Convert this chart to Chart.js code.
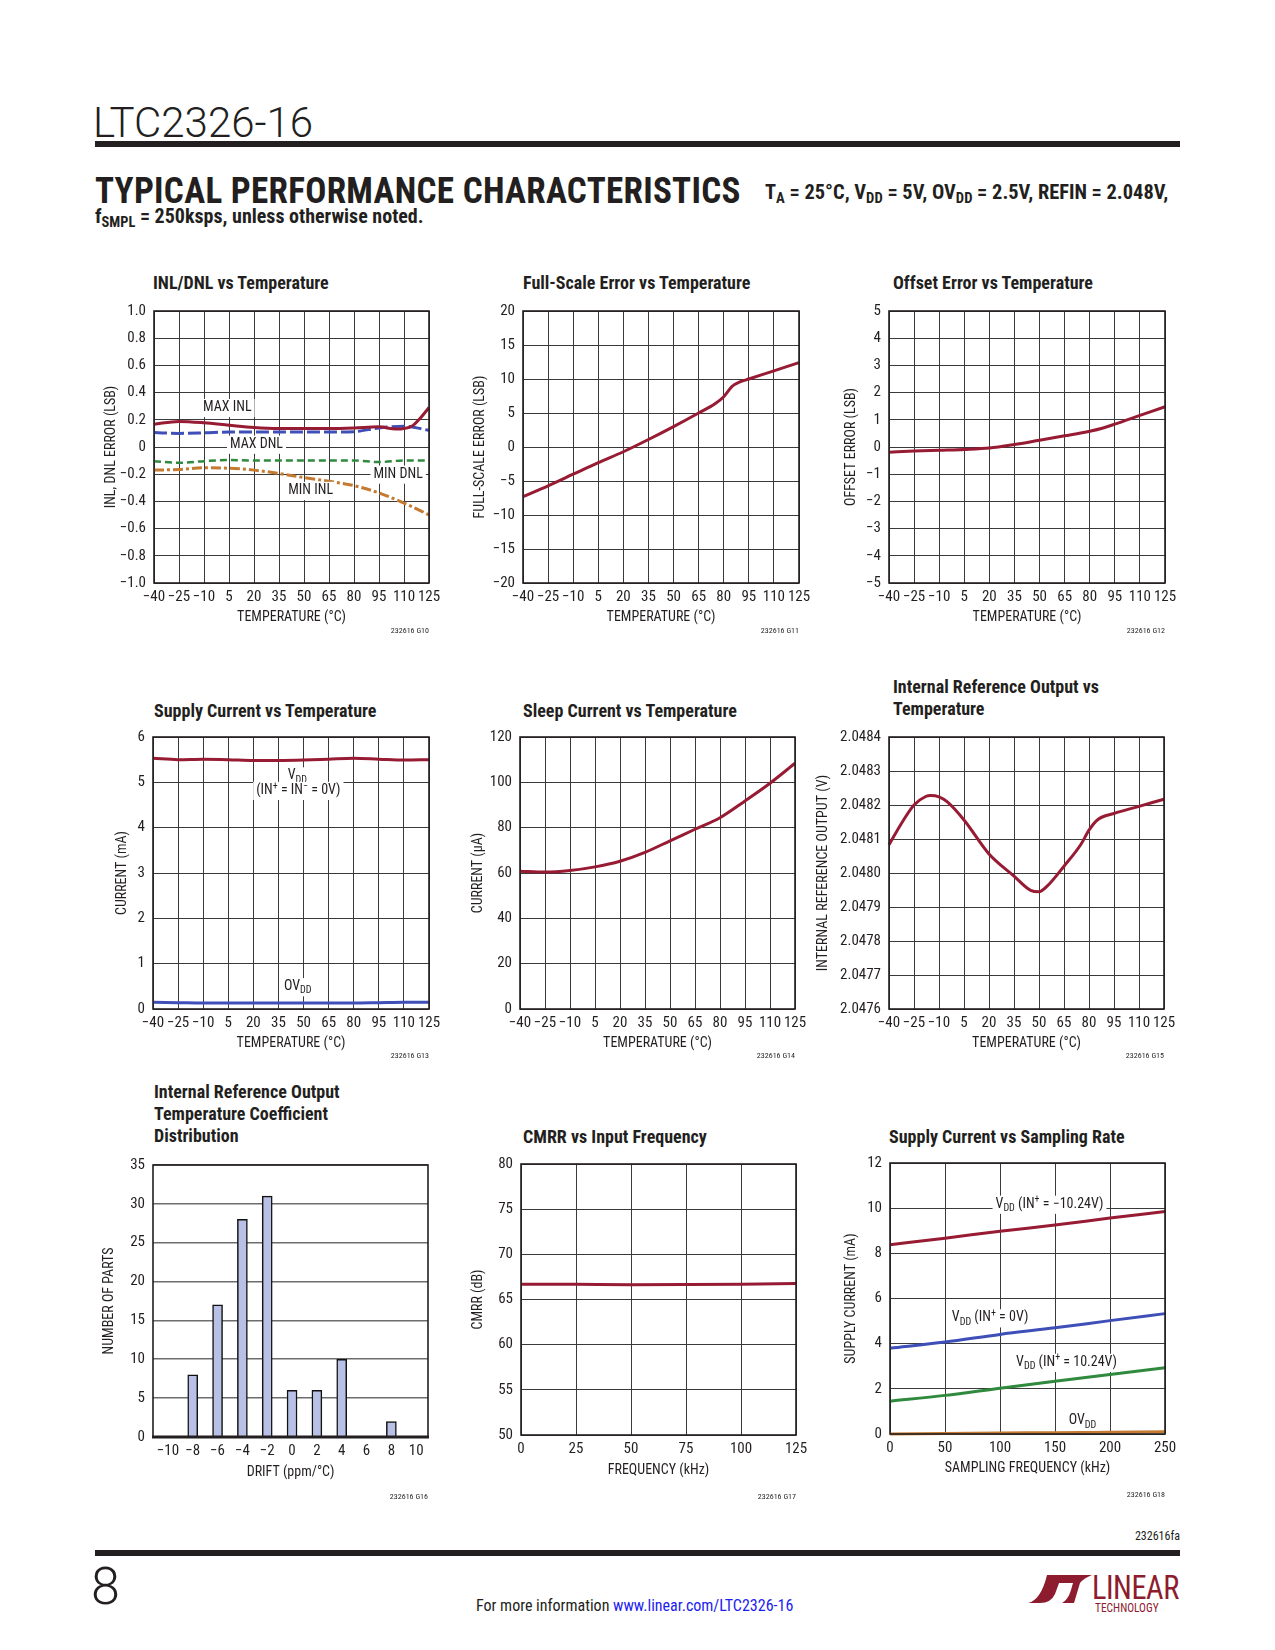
<!DOCTYPE html>
<html>
<head>
<meta charset="utf-8">
<script src="https://cdn.jsdelivr.net/npm/chart.js@4.4.1/dist/chart.umd.min.js"></script>
<style>
  body { margin: 0; background: #fff; }
  #page { position: relative; width: 1275px; height: 1650px; overflow: hidden; color: #231f20;
          font-family: 'Liberation Sans Narrow', 'Arial Narrow', 'Roboto Condensed', sans-serif; }
  .abs { position: absolute; white-space: nowrap; }
  .bar { position: absolute; background: #231f20; }
  .ct { position: absolute; font-weight: bold; font-size: 18px; line-height: 22px; white-space: nowrap; }
  canvas { position: absolute; }
  sub { font-size: 72%; vertical-align: -4px; line-height: 0; }
</style>
</head>
<body>
<div id="page">
  <div class="abs" style="left:93px;top:98px;font-family:Roboto;font-weight:300;font-size:42px;">LTC2326-16</div>
  <div class="bar" style="left:95px;top:141px;width:1085px;height:6px;"></div>
  <div class="abs" style="left:95px;top:169px;font-weight:bold;font-size:37px;letter-spacing:0.3px;transform:scaleX(0.948);transform-origin:left top;">TYPICAL PERFORMANCE CHARACTERISTICS</div>
  <div class="abs" style="left:765px;top:180px;font-weight:bold;font-size:20.4px;">T<sub>A</sub> = 25°C, V<sub>DD</sub> = 5V, OV<sub>DD</sub> = 2.5V, REFIN = 2.048V,</div>
  <div class="abs" style="left:95px;top:204px;font-weight:bold;font-size:20px;">f<sub>SMPL</sub> = 250ksps, unless otherwise noted.</div>

  <div class="ct" style="left:153px;top:272px;">INL/DNL vs Temperature</div>
  <div class="ct" style="left:523px;top:272px;">Full-Scale Error vs Temperature</div>
  <div class="ct" style="left:893px;top:272px;">Offset Error vs Temperature</div>
  <div class="ct" style="left:154px;top:700px;">Supply Current vs Temperature</div>
  <div class="ct" style="left:523px;top:700px;">Sleep Current vs Temperature</div>
  <div class="ct" style="left:893px;top:676px;">Internal Reference Output vs<br>Temperature</div>
  <div class="ct" style="left:154px;top:1081px;">Internal Reference Output<br>Temperature Coefficient<br>Distribution</div>
  <div class="ct" style="left:523px;top:1126px;">CMRR vs Input Frequency</div>
  <div class="ct" style="left:889px;top:1126px;">Supply Current vs Sampling Rate</div>

  <canvas id="c1"></canvas><canvas id="c2"></canvas><canvas id="c3"></canvas>
  <canvas id="c4"></canvas><canvas id="c5"></canvas><canvas id="c6"></canvas>
  <canvas id="c7"></canvas><canvas id="c8"></canvas><canvas id="c9"></canvas>

  <div class="abs" style="right:95px;top:1529px;font-size:12px;">232616fa</div>
  <div class="bar" style="left:95px;top:1550px;width:1085px;height:6px;"></div>
  <div class="abs" style="left:91px;top:1556px;font-family:Roboto;font-weight:300;font-size:52px;">8</div>
  <div class="abs" style="left:476px;top:1596px;font-size:16px;">For more information <span style="color:#1d1df0;">www.linear.com/LTC2326-16</span></div>
  <div class="abs" style="left:1028px;top:1575px;">
    <svg width="64" height="28" viewBox="0 0 64 28">
      <path d="M19 0 H34 L27 19 Q23 28 12 28 H0 Q13 25 19 0 Z" fill="#8c1c2e"/>
      <path d="M31 0 H64 Q56 3 52 8 L46 28 H34 Q40 25 43 15 L45 8 H29 Z" fill="#8c1c2e"/>
    </svg>
  </div>
  <div class="abs" style="left:1092px;top:1568px;font-size:33px;color:#8c1c2e;letter-spacing:-0.5px;transform:scaleX(0.92);transform-origin:left top;">LINEAR</div>
  <div class="abs" style="left:1095px;top:1601px;font-size:12px;color:#8c1c2e;transform:scaleX(0.95);transform-origin:left top;">TECHNOLOGY</div>
</div>

<script>
// ---------- data ----------
const tempTicks = [-40, -25, -10, 5, 20, 35, 50, 65, 80, 95, 110, 125];

// INL/DNL vs temperature
const inlTemp = [-40, -25, -10, 5, 20, 35, 50, 65, 80, 95, 105, 110, 115, 120, 125];
const maxInl = [0.168, 0.188, 0.178, 0.16, 0.143, 0.136, 0.136, 0.136, 0.14, 0.148, 0.132, 0.136, 0.155, 0.215, 0.29];
const dnlTemp = [-40, -25, -10, 5, 20, 35, 50, 65, 80, 95, 110, 125];
const maxDnl = [0.106, 0.1, 0.104, 0.11, 0.11, 0.11, 0.11, 0.11, 0.113, 0.14, 0.153, 0.123];
const minDnl = [-0.104, -0.116, -0.104, -0.096, -0.099, -0.099, -0.099, -0.099, -0.099, -0.111, -0.099, -0.1];
const minInl = [-0.17, -0.165, -0.153, -0.156, -0.17, -0.195, -0.225, -0.252, -0.284, -0.338, -0.412, -0.499];
const inlTicks = [-1, -0.8, -0.6, -0.4, -0.2, 0, 0.2, 0.4, 0.6, 0.8, 1];

// full-scale error
const fsTemp = [-40, -25, -10, 5, 20, 35, 50, 65, 75, 80, 85, 90, 95, 110, 125];
const fsErr = [-7.3, -5.7, -4.0, -2.3, -0.7, 1.1, 3.0, 5.0, 6.4, 7.4, 8.9, 9.6, 10.0, 11.2, 12.4];
const fsTicks = [-20, -15, -10, -5, 0, 5, 10, 15, 20];

// offset error
const offTemp = [-40, -25, -10, 5, 20, 35, 50, 65, 80, 88, 95, 110, 125];
const offErr = [-0.19, -0.15, -0.12, -0.09, -0.04, 0.09, 0.25, 0.41, 0.58, 0.7, 0.84, 1.16, 1.48];
const offTicks = [-5, -4, -3, -2, -1, 0, 1, 2, 3, 4, 5];

// supply current vs temperature
const vddCur = [5.53, 5.5, 5.51, 5.5, 5.48, 5.48, 5.49, 5.51, 5.53, 5.51, 5.49, 5.5];
const ovddCur = [0.15, 0.14, 0.13, 0.13, 0.13, 0.13, 0.13, 0.13, 0.13, 0.14, 0.15, 0.15];
const curTicks = [0, 1, 2, 3, 4, 5, 6];

// sleep current
const sleepCur = [60.8, 60.4, 61.1, 62.7, 65.2, 69.1, 74.2, 79.3, 84.4, 91.8, 99.6, 108.4];
const sleepTicks = [0, 20, 40, 60, 80, 100, 120];

// internal reference output
const refTemp = [-40, -32, -25, -18, -15, -10, -5, 5, 20, 35, 45, 50, 55, 65, 75, 80, 85, 95, 110, 125];
const refOut = [2.048083, 2.04815, 2.0482, 2.048225, 2.048228, 2.048224, 2.048209, 2.048156, 2.048056, 2.047991,
                2.047949, 2.047945, 2.047962, 2.04802, 2.048083, 2.048126, 2.048156, 2.048175, 2.048196, 2.048217];
const refTicks = [2.0476, 2.0477, 2.0478, 2.0479, 2.0480, 2.0481, 2.0482, 2.0483, 2.0484];

// tempco distribution
const driftBins = [-8, -6, -4, -2, 0, 2, 4, 8];
const partCounts = [8, 17, 28, 31, 6, 6, 10, 2];
const driftTicks = [-10, -8, -6, -4, -2, 0, 2, 4, 6, 8, 10];
const partTicks = [0, 5, 10, 15, 20, 25, 30, 35];

// CMRR
const cmrrFreq = [0, 25, 50, 75, 100, 125];
const cmrr = [66.7, 66.68, 66.64, 66.66, 66.7, 66.78];
const cmrrTicks = [50, 55, 60, 65, 70, 75, 80];

// supply current vs sampling rate
const fsmpl = [0, 50, 100, 150, 200, 250];
const vddNeg = [8.38, 8.67, 8.98, 9.25, 9.56, 9.85];
const vddZero = [3.8, 4.07, 4.41, 4.7, 5.02, 5.33];
const vddPos = [1.45, 1.71, 2.03, 2.34, 2.63, 2.93];
const ovddRate = [0.0, 0.02, 0.04, 0.06, 0.08, 0.1];
const rateTicks = [0, 2, 4, 6, 8, 10, 12];

// ---------- styling / layout ----------
const FONT = "'Liberation Sans Narrow', 'Arial Narrow', 'Roboto Condensed', sans-serif";
const INK = '#231f20';
const GRID = '#3a3a3a';
const RED = '#981b34';
const BLUE = '#3f4fb8';
const GREEN = '#2f8a3e';
const ORANGE = '#c47a30';
const AXW = 80, PADT = 14, PADR = 30, AXH = 52, PADB = 18;

function place(id, r) {
  const c = document.getElementById(id);
  const w = r.r - r.l + AXW + PADR, h = r.b - r.t + PADT + AXH + PADB;
  c.width = w; c.height = h;
  c.style.left = (r.l - AXW) + 'px';
  c.style.top = (r.t - PADT) + 'px';
  c.style.width = w + 'px';
  c.style.height = h + 'px';
  return c;
}

const minus = v => String(v).replace('-', '\u2212');

function axis(horizontal, min, max, ticks, label, gap, fmt, grid) {
  const half = 14 * 1.2 / 2;
  return {
    type: 'linear', min, max,
    afterBuildTicks: s => { s.ticks = ticks.map(v => ({ value: v })); },
    afterFit: s => { if (horizontal) s.height = AXH; else s.width = AXW; },
    grid: { display: grid !== false, color: GRID, lineWidth: 1, drawTicks: false },
    border: { display: false },
    ticks: { color: INK, font: { family: FONT, size: 15 }, padding: horizontal ? 5 : 8,
             maxRotation: 0, autoSkip: false, callback: fmt || minus },
    title: { display: true, text: label, color: INK, font: { family: FONT, size: 14 },
             padding: horizontal ? { top: 0, bottom: AXH - half - gap } : { top: AXW - gap - half, bottom: 0 } }
  };
}

function series(xs, ys, color, dash, width) {
  return {
    data: xs.map((x, i) => ({ x, y: ys[i] })),
    borderColor: color, borderWidth: width || 3, borderDash: dash || [],
    pointRadius: 0, cubicInterpolationMode: 'monotone', fill: false, clip: false
  };
}

// rich text: parts = [[text], [text, 'sub'|'sup'], ...]
function drawRich(ctx, parts, cx, cy, size, bg) {
  const big = size + 'px ' + FONT, small = Math.round(size * 0.72) + 'px ' + FONT;
  let w = 0;
  const ws = parts.map(p => { ctx.font = p[1] ? small : big; const m = ctx.measureText(p[0]).width; w += m; return m; });
  if (bg) {
    ctx.fillStyle = '#fff';
    ctx.fillRect(cx - w / 2 - 3, cy - size * 0.62, w + 6, size * 1.3);
  }
  ctx.fillStyle = INK;
  ctx.textBaseline = 'middle';
  ctx.textAlign = 'left';
  let x = cx - w / 2;
  parts.forEach((p, i) => {
    ctx.font = p[1] ? small : big;
    const dy = p[1] === 'sub' ? size * 0.3 : p[1] === 'sup' ? -size * 0.32 : 0;
    ctx.fillText(p[0], x, cy + dy);
    x += ws[i];
  });
}

function frame(opts) {
  return {
    id: 'frame',
    afterDatasetsDraw(chart) {
      const { ctx, chartArea: a, scales } = chart;
      ctx.save();
      ctx.strokeStyle = INK;
      ctx.lineWidth = 1.6;
      ctx.strokeRect(a.left, a.top, a.right - a.left, a.bottom - a.top);
      if (opts.bottomWidth) {
        ctx.lineWidth = opts.bottomWidth;
        ctx.beginPath(); ctx.moveTo(a.left - 1, a.bottom); ctx.lineTo(a.right + 1, a.bottom); ctx.stroke();
      }
      (opts.notes || []).forEach(n => {
        drawRich(ctx, n.parts, scales.x.getPixelForValue(n.x), scales.y.getPixelForValue(n.y), n.size || 14, n.bg !== false);
      });
      ctx.font = '8px ' + FONT;
      ctx.fillStyle = INK;
      ctx.textAlign = 'right';
      ctx.textBaseline = 'middle';
      ctx.fillText(opts.code, a.right, a.bottom + opts.codeDy);
      ctx.restore();
    }
  };
}

function make(id, rect, type, datasets, x, y, opts) {
  return new Chart(place(id, rect), {
    type, data: { datasets },
    options: {
      responsive: false, animation: false, events: [], devicePixelRatio: 1,
      layout: { padding: { top: PADT, right: PADR, bottom: PADB, left: 0 } },
      scales: { x, y },
      plugins: { legend: { display: false }, tooltip: { enabled: false } }
    },
    plugins: [frame(opts)]
  });
}

const inlFmt = v => v === 0 ? '0' : minus(v.toFixed(1));

// 1. INL/DNL
make('c1', { l: 154, t: 308, r: 429, b: 583 }, 'line', [
  series(inlTemp, maxInl, RED),
  series(dnlTemp, maxDnl, BLUE, [13, 4]),
  series(dnlTemp, minDnl, GREEN, [7, 4], 2.5),
  series(dnlTemp, minInl, ORANGE, [10, 3, 3, 3])
], axis(true, -40, 125, tempTicks, 'TEMPERATURE (°C)', 34),
   axis(false, -1, 1, inlTicks, 'INL, DNL ERROR (LSB)', 43, inlFmt),
   { code: '232616 G10', codeDy: 48, notes: [
     { x: 4, y: 0.29, parts: [['MAX INL']] },
     { x: 21.5, y: 0.02, parts: [['MAX DNL']] },
     { x: 106.5, y: -0.2, parts: [['MIN DNL']] },
     { x: 54, y: -0.32, parts: [['MIN INL']] }
   ] });

// 2. Full-scale error
make('c2', { l: 523, t: 308, r: 799, b: 583 }, 'line', [series(fsTemp, fsErr, RED)],
  axis(true, -40, 125, tempTicks, 'TEMPERATURE (°C)', 34),
  axis(false, -20, 20, fsTicks, 'FULL-SCALE ERROR (LSB)', 43),
  { code: '232616 G11', codeDy: 48 });

// 3. Offset error
make('c3', { l: 889, t: 308, r: 1165, b: 583 }, 'line', [series(offTemp, offErr, RED)],
  axis(true, -40, 125, tempTicks, 'TEMPERATURE (°C)', 34),
  axis(false, -5, 5, offTicks, 'OFFSET ERROR (LSB)', 38),
  { code: '232616 G12', codeDy: 48 });

// 4. Supply current vs temperature
make('c4', { l: 153, t: 734, r: 429, b: 1009 }, 'line', [
  series(tempTicks, vddCur, RED),
  series(tempTicks, ovddCur, BLUE)
], axis(true, -40, 125, tempTicks, 'TEMPERATURE (°C)', 34),
   axis(false, 0, 6, curTicks, 'CURRENT (mA)', 31),
   { code: '232616 G13', codeDy: 47, notes: [
     { x: 46.3, y: 5.14, parts: [['V'], ['DD', 'sub']] },
     { x: 46.9, y: 4.82, parts: [['(IN'], ['+', 'sup'], [' = IN'], ['\u2212', 'sup'], [' = 0V)']] },
     { x: 46.5, y: 0.49, parts: [['OV'], ['DD', 'sub']] }
   ] });

// 5. Sleep current
make('c5', { l: 520, t: 734, r: 795, b: 1009 }, 'line', [series(tempTicks, sleepCur, RED)],
  axis(true, -40, 125, tempTicks, 'TEMPERATURE (°C)', 34),
  axis(false, 0, 120, sleepTicks, 'CURRENT (\u00b5A)', 42),
  { code: '232616 G14', codeDy: 47 });

// 6. Internal reference output
make('c6', { l: 889, t: 734, r: 1164, b: 1009 }, 'line', [series(refTemp, refOut, RED)],
  axis(true, -40, 125, tempTicks, 'TEMPERATURE (°C)', 34),
  axis(false, 2.0476, 2.0484, refTicks, 'INTERNAL REFERENCE OUTPUT (V)', 66, v => v.toFixed(4)),
  { code: '232616 G15', codeDy: 47 });

// 7. Tempco distribution (histogram)
const histY = axis(false, 0, 35, partTicks, 'NUMBER OF PARTS', 44);
histY.grid.color = '#6d6d6d';
histY.grid.lineWidth = 1.6;
make('c7', { l: 153, t: 1162, r: 428, b: 1437 }, 'bar', [{
  data: driftBins.map((x, i) => ({ x, y: partCounts[i] })),
  backgroundColor: '#b8c0e5', borderColor: '#111', borderWidth: 1.5, borderSkipped: 'bottom',
  barThickness: 10
}], Object.assign(axis(true, -11.2, 10.95, driftTicks, 'DRIFT (ppm/°C)', 35, null, false),
                  { offset: false }),
   histY,
   { code: '232616 G16', codeDy: 60, bottomWidth: 3 });

// 8. CMRR
make('c8', { l: 521, t: 1161, r: 796, b: 1435 }, 'line', [series(cmrrFreq, cmrr, RED)],
  axis(true, 0, 125, cmrrFreq, 'FREQUENCY (kHz)', 35),
  axis(false, 50, 80, cmrrTicks, 'CMRR (dB)', 43),
  { code: '232616 G17', codeDy: 62 });

// 9. Supply current vs sampling rate
make('c9', { l: 890, t: 1160, r: 1165, b: 1434 }, 'line', [
  series(fsmpl, vddNeg, RED),
  series(fsmpl, vddZero, BLUE),
  series(fsmpl, vddPos, GREEN),
  series(fsmpl, ovddRate, ORANGE)
], axis(true, 0, 250, fsmpl, 'SAMPLING FREQUENCY (kHz)', 34),
   axis(false, 0, 12, rateTicks, 'SUPPLY CURRENT (mA)', 39),
   { code: '232616 G18', codeDy: 61, notes: [
     { x: 145, y: 10.17, parts: [['V'], ['DD', 'sub'], [' (IN'], ['+', 'sup'], [' = \u221210.24V)']] },
     { x: 91, y: 5.14, parts: [['V'], ['DD', 'sub'], [' (IN'], ['+', 'sup'], [' = 0V)']] },
     { x: 160.5, y: 3.17, parts: [['V'], ['DD', 'sub'], [' (IN'], ['+', 'sup'], [' = 10.24V)']] },
     { x: 175, y: 0.58, parts: [['OV'], ['DD', 'sub']] }
   ] });
</script>
</body>
</html>
